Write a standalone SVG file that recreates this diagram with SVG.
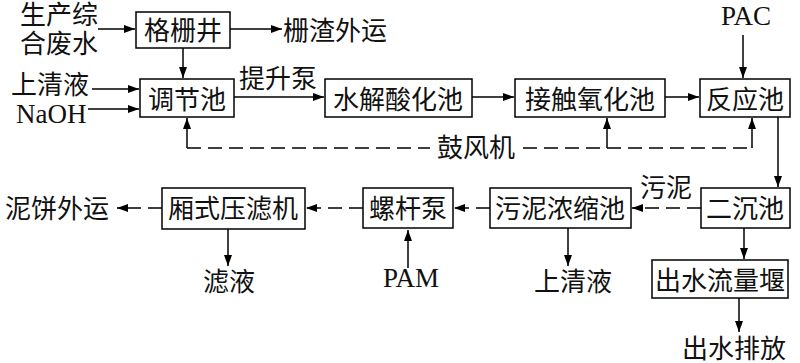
<svg xmlns="http://www.w3.org/2000/svg" width="800" height="363" viewBox="0 0 800 363">
<defs>
<marker id="ah" markerWidth="12" markerHeight="10" refX="11" refY="4" orient="auto" markerUnits="userSpaceOnUse">
<path d="M0,0 L11,4 L0,8 Z" fill="#000"/>
</marker>
<style>
.box{fill:#fff;stroke:#000;stroke-width:1.5}
.t{font-family:"Liberation Serif","Noto Sans CJK SC",serif;font-size:26px;fill:#111}
.lat{font-size:27px}
.m{text-anchor:middle}
.l{fill:none;stroke:#000;stroke-width:1.5}
.a{marker-end:url(#ah)}
.d{stroke-dasharray:14,7}
</style>
</defs>
<rect width="800" height="363" fill="#fff"/>
<g id="connectors">
<path class="l a" d="M98,29 H135"/>
<path class="l a" d="M230,29 H282"/>
<path class="l a" d="M183,48 V78"/>
<path class="l a" d="M92,89 H139"/>
<path class="l a" d="M88,109 H139"/>
<path class="l a" d="M234,97 H324"/>
<path class="l a" d="M472,97 H514"/>
<path class="l a" d="M665,97 H699"/>
<path class="l a" d="M743,35 V78"/>
<path class="l a" d="M778,117 V187"/>
<path class="l d" d="M187,148 H430 M523,148 H752"/>
<path class="l a" d="M187,148 V118"/>
<path class="l a" d="M607,148 V118"/>
<path class="l a" d="M752,148 V118"/>
<path class="l d a" d="M701,208 H632"/>
<path class="l d a" d="M490,208 H454"/>
<path class="l d a" d="M363,208 H306"/>
<path class="l d a" d="M162,208 H117"/>
<path class="l a" d="M228,229 V266"/>
<path class="l a" d="M408,268 V230"/>
<path class="l a" d="M568,228 V266"/>
<path class="l a" d="M744,228 V259"/>
<path class="l a" d="M739,298 V332"/>
</g>
<g id="labels">
<text class="t m" x="59" y="24">生产综</text>
<text class="t m" x="59" y="53">合废水</text>
<text class="t" x="283" y="40">栅渣外运</text>
<text class="t" x="11" y="94">上清液</text>
<text class="t lat" x="16" y="123">NaOH</text>
<text class="t" x="239" y="88">提升泵</text>
<text class="t lat m" x="746" y="25">PAC</text>
<text class="t" x="437" y="157">鼓风机</text>
<text class="t" x="640" y="197">污泥</text>
<text class="t" x="5" y="218">泥饼外运</text>
<text class="t m" x="229" y="291">滤液</text>
<text class="t lat m" x="411" y="287">PAM</text>
<text class="t m" x="573" y="291">上清液</text>
<text class="t m" x="734" y="358">出水排放</text>
</g>
<g id="n-gezha"><rect class="box" x="136" y="12" width="94" height="36"/><text class="t m" x="183" y="40">格栅井</text></g>
<g id="n-tiaojie"><rect class="box" x="140" y="79" width="94" height="38"/><text class="t m" x="187" y="109">调节池</text></g>
<g id="n-shuijie"><rect class="box" x="325" y="79" width="147" height="38"/><text class="t m" x="398" y="109">水解酸化池</text></g>
<g id="n-jiechu"><rect class="box" x="515" y="79" width="150" height="38"/><text class="t m" x="590" y="109">接触氧化池</text></g>
<g id="n-fanying"><rect class="box" x="700" y="79" width="90" height="38"/><text class="t m" x="745" y="109">反应池</text></g>
<g id="n-erchen"><rect class="box" x="701" y="188" width="89" height="40"/><text class="t m" x="745" y="218">二沉池</text></g>
<g id="n-nongsuo"><rect class="box" x="490" y="188" width="141" height="40"/><text class="t m" x="560" y="218">污泥浓缩池</text></g>
<g id="n-luogan"><rect class="box" x="363" y="188" width="90" height="40"/><text class="t m" x="408" y="218">螺杆泵</text></g>
<g id="n-yashi"><rect class="box" x="162" y="188" width="143" height="41"/><text class="t m" x="233" y="218">厢式压滤机</text></g>
<g id="n-yan"><rect class="box" x="652" y="260" width="136" height="38"/><text class="t m" x="720" y="290">出水流量堰</text></g>
</svg>
